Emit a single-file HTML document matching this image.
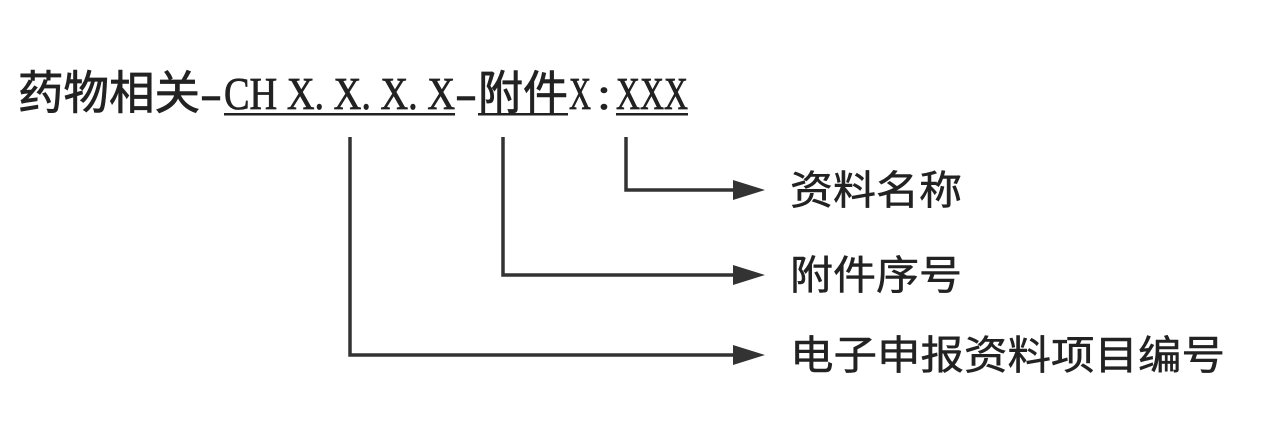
<!DOCTYPE html>
<html><head><meta charset="utf-8"><style>
html,body{margin:0;padding:0;background:#fff;}
svg{display:block;}
text{font-family:"Liberation Serif","Noto Serif CJK SC",serif;fill:#222;}
.c{font-family:"Liberation Sans","Noto Sans CJK SC",sans-serif;}
.t{stroke:#222;stroke-width:0.8;}
</style></head><body>
<svg width="1267" height="436" viewBox="0 0 1267 436" xmlns="http://www.w3.org/2000/svg">
<g font-size="46" class="t">
<text class="c t" x="18" y="109" textLength="182" lengthAdjust="spacingAndGlyphs">药物相关</text>
<text class="t" x="200" y="109" textLength="22" lengthAdjust="spacingAndGlyphs">-</text>
<text class="t" x="224" y="109" textLength="231" lengthAdjust="spacingAndGlyphs">CH X. X. X. X</text>
<text class="t" x="455" y="109" textLength="22" lengthAdjust="spacingAndGlyphs">-</text>
<text class="c t" x="478" y="109" textLength="90" lengthAdjust="spacingAndGlyphs">附件</text>
<text class="t" x="569" y="109" textLength="22" lengthAdjust="spacingAndGlyphs">X</text>
<text class="t" x="597" y="109" textLength="14" lengthAdjust="spacingAndGlyphs">:</text>
<text class="t" x="616" y="109" textLength="72" lengthAdjust="spacingAndGlyphs">XXX</text>
</g>
<g fill="#222">
<rect x="224" y="113" width="231" height="2.5"/>
<rect x="478" y="113" width="90" height="2.5"/>
<rect x="616" y="113" width="72" height="2.5"/>
</g>
<g stroke="#333" stroke-width="3.5" fill="none">
<polyline points="626,137 626,190 735,190"/>
<polyline points="503,137 503,275 735,275"/>
<polyline points="350,137 350,355 735,355"/>
</g>
<g fill="#333">
<polygon points="733,180 765,190 733,200"/>
<polygon points="733,265 765,275 733,285"/>
<polygon points="733,345 765,355 733,365"/>
</g>
<g font-size="40">
<text class="c t" x="790" y="204" textLength="172" lengthAdjust="spacingAndGlyphs" style="stroke-width:0.5">资料名称</text>
<text class="c t" x="790" y="289" textLength="172" lengthAdjust="spacingAndGlyphs" style="stroke-width:0.5">附件序号</text>
<text class="c t" x="790" y="369" textLength="435" lengthAdjust="spacingAndGlyphs" style="stroke-width:0.5">电子申报资料项目编号</text>
</g>
</svg>
</body></html>
